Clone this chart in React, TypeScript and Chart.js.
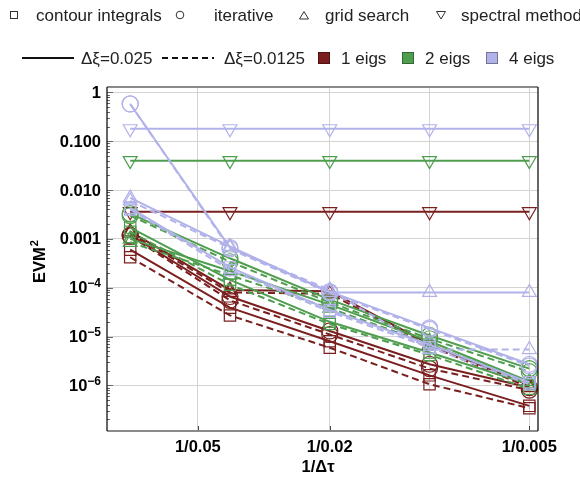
import React, { useEffect, useRef } from 'react';
import { Chart, registerables } from 'chart.js';

Chart.register(...registerables);

const FONT = '"Liberation Sans", Arial, Helvetica, sans-serif';

// x = 1/Δτ
const xValues = [12.5, 25, 50, 100, 200];
const xGridValues = [20, 50, 100, 200];
const xTickLabels = ['1/0.05', '1/0.02', '', '1/0.005'];
const yTickValues = [1e-6, 1e-5, 1e-4, 1e-3, 1e-2, 1e-1, 1];
const yTickBase = ['10', '10', '10', '0.001', '0.010', '0.100', '1'];
const yTickExp = ['−6', '−5', '−4', '', '', '', ''];

const methodLabels = ['contour integrals', 'iterative', 'grid search', 'spectral method'];
const stepLabels = ['Δξ=0.025', 'Δξ=0.0125'];
const eigLabels = ['1 eigs', '2 eigs', '4 eigs'];
const eigColors = ['#7a1e1e', '#4f9e4f', '#b2b2ea'];

// 1 eig
const contour1Solid = [6.0e-4, 3.9e-5, 8.0e-6, 1.6e-6, 3.8e-7];
const contour1Dashed = [4.2e-4, 2.7e-5, 5.9e-6, 1.05e-6, 3.4e-7];
const iter1Solid = [1.2e-3, 6.6e-5, 1.3e-5, 2.7e-6, 9.0e-7];
const iter1Dashed = [1.15e-3, 5.5e-5, 1.1e-5, 2.2e-6, 8.0e-7];
const grid1Solid = [1.4e-3, 9.0e-5, 8.5e-5, 7.0e-6, 1.0e-6];
const grid1Dashed = [1.3e-3, 8.0e-5, 7.5e-5, 6.5e-6, 9.0e-7];
const spec1 = [0.0036, 0.0036, 0.0036, 0.0036, 0.0036];

// 2 eigs
const contour2Solid = [1.7e-3, 1.45e-4, 2.0e-5, 4.7e-6, 1.05e-6];
const contour2Dashed = [1.4e-3, 1.15e-4, 1.8e-5, 4.2e-6, 8.5e-7];
const iter2Solid = [3.3e-3, 4.0e-4, 5.7e-5, 1.05e-5, 2.2e-6];
const iter2Dashed = [3.0e-3, 3.4e-4, 5.0e-5, 9.0e-6, 1.9e-6];
const grid2Solid = [1.0e-3, 2.2e-4, 4.5e-5, 8.0e-6, 1.2e-6];
const grid2Dashed = [8.5e-4, 1.8e-4, 3.8e-5, 7.0e-6, 1.1e-6];
const spec2 = [0.04, 0.04, 0.04, 0.04, 0.04];

// 4 eigs
const contour4Solid = [4.3e-3, 2.6e-4, 3.5e-5, 6.8e-6, 1.15e-6];
const contour4Dashed = [4.0e-3, 2.3e-4, 3.2e-5, 6.0e-6, 1.05e-6];
const iter4Solid = [0.58, 6.6e-4, 8.3e-5, 1.5e-5, 2.7e-6];
const iter4Dashed = [0.58, 6.2e-4, 7.8e-5, 1.4e-5, 2.5e-6];
const grid4Solid = [6.9e-3, 7.0e-4, 8.0e-5, 8.0e-5, 8.0e-5];
const grid4Dashed = [6.0e-3, 6.5e-4, 9.0e-5, 5.4e-6, 5.4e-6];
const spec4 = [0.18, 0.18, 0.18, 0.18, 0.18];

type Shape = 'rect' | 'circle' | 'triangle' | 'down';
type Series = { data: number[]; eig: number; dashed: boolean; shape: Shape };

// lavender first so it is drawn on top
const seriesList: Series[] = [
  { data: spec4, eig: 2, dashed: false, shape: 'down' },
  { data: grid4Solid, eig: 2, dashed: false, shape: 'triangle' },
  { data: grid4Dashed, eig: 2, dashed: true, shape: 'triangle' },
  { data: iter4Solid, eig: 2, dashed: false, shape: 'circle' },
  { data: iter4Dashed, eig: 2, dashed: true, shape: 'circle' },
  { data: contour4Solid, eig: 2, dashed: false, shape: 'rect' },
  { data: contour4Dashed, eig: 2, dashed: true, shape: 'rect' },
  { data: spec2, eig: 1, dashed: false, shape: 'down' },
  { data: grid2Solid, eig: 1, dashed: false, shape: 'triangle' },
  { data: grid2Dashed, eig: 1, dashed: true, shape: 'triangle' },
  { data: iter2Solid, eig: 1, dashed: false, shape: 'circle' },
  { data: iter2Dashed, eig: 1, dashed: true, shape: 'circle' },
  { data: contour2Solid, eig: 1, dashed: false, shape: 'rect' },
  { data: contour2Dashed, eig: 1, dashed: true, shape: 'rect' },
  { data: spec1, eig: 0, dashed: false, shape: 'down' },
  { data: grid1Solid, eig: 0, dashed: false, shape: 'triangle' },
  { data: grid1Dashed, eig: 0, dashed: true, shape: 'triangle' },
  { data: iter1Solid, eig: 0, dashed: false, shape: 'circle' },
  { data: iter1Dashed, eig: 0, dashed: true, shape: 'circle' },
  { data: contour1Solid, eig: 0, dashed: false, shape: 'rect' },
  { data: contour1Dashed, eig: 0, dashed: true, shape: 'rect' },
];

const decorPlugin = {
  id: 'decor',
  afterDraw(chart: any) {
    const { ctx, chartArea: a, scales } = chart;
    const ys = scales.y;
    const xs = scales.x;
    ctx.save();

    // minor ticks on left axis (inside)
    ctx.strokeStyle = '#666';
    ctx.lineWidth = 1;
    for (let e = -7; e <= 0; e++) {
      for (let m = 1; m <= 9; m++) {
        const v = m * Math.pow(10, e);
        if (v < ys.min || v > ys.max) continue;
        const y = Math.round(ys.getPixelForValue(v)) + 0.5;
        const len = m === 1 ? 6 : 3;
        ctx.beginPath();
        ctx.moveTo(a.left, y);
        ctx.lineTo(a.left + len, y);
        ctx.stroke();
      }
    }
    // x ticks (inside, bottom)
    ctx.strokeStyle = '#444';
    xGridValues.forEach((v, i) => {
      if (!xTickLabels[i]) return;
      const x = Math.round(xs.getPixelForValue(v)) + 0.5;
      ctx.beginPath();
      ctx.moveTo(x, a.bottom);
      ctx.lineTo(x, a.bottom - 5);
      ctx.stroke();
    });

    // frame
    ctx.strokeStyle = '#8a8a8a';
    ctx.lineWidth = 2;
    ctx.beginPath();
    ctx.moveTo(a.left, a.top);
    ctx.lineTo(a.right, a.top);
    ctx.moveTo(a.left, a.bottom);
    ctx.lineTo(a.right, a.bottom);
    ctx.stroke();
    ctx.strokeStyle = '#000';
    ctx.lineWidth = 1.2;
    ctx.beginPath();
    ctx.moveTo(a.left, a.top);
    ctx.lineTo(a.left, a.bottom);
    ctx.moveTo(a.right, a.top);
    ctx.lineTo(a.right, a.bottom);
    ctx.stroke();

    // y tick labels
    ctx.fillStyle = '#000';
    const right = a.left - 6;
    yTickValues.forEach((v, i) => {
      const y = ys.getPixelForValue(v);
      const base = yTickBase[i];
      const exp = yTickExp[i];
      ctx.font = `bold 16.5px ${FONT}`;
      const bw = ctx.measureText(base).width;
      let ew = 0;
      if (exp) {
        ctx.font = `bold 12px ${FONT}`;
        ew = ctx.measureText(exp).width;
      }
      const x0 = right - bw - ew;
      ctx.font = `bold 16.5px ${FONT}`;
      ctx.textAlign = 'left';
      ctx.textBaseline = 'middle';
      ctx.fillText(base, x0, y + 1);
      if (exp) {
        ctx.font = `bold 12px ${FONT}`;
        ctx.textBaseline = 'alphabetic';
        ctx.fillText(exp, x0 + bw, y - 0.5);
      }
    });

    // axis titles
    ctx.font = `bold 16.5px ${FONT}`;
    ctx.textAlign = 'center';
    ctx.textBaseline = 'middle';
    ctx.fillText('1/Δτ', 318, 467);

    ctx.save();
    ctx.translate(45, 283);
    ctx.rotate(-Math.PI / 2);
    ctx.textAlign = 'left';
    ctx.textBaseline = 'alphabetic';
    ctx.font = `bold 16.5px ${FONT}`;
    ctx.fillText('EVM', 0, 0);
    const ew2 = ctx.measureText('EVM').width;
    ctx.font = `bold 11px ${FONT}`;
    ctx.fillText('2', ew2 + 1, -7);
    ctx.restore();

    // legend row 1
    const r1 = 15;
    ctx.strokeStyle = '#333';
    ctx.lineWidth = 1;
    ctx.strokeRect(10.5, r1 - 3.5, 7, 7);
    ctx.beginPath();
    ctx.arc(180, r1, 3.8, 0, Math.PI * 2);
    ctx.stroke();
    ctx.beginPath();
    ctx.moveTo(304, r1 - 3.5);
    ctx.lineTo(308.5, r1 + 4);
    ctx.lineTo(299.5, r1 + 4);
    ctx.closePath();
    ctx.stroke();
    ctx.beginPath();
    ctx.moveTo(441, r1 + 4);
    ctx.lineTo(445.5, r1 - 3.5);
    ctx.lineTo(436.5, r1 - 3.5);
    ctx.closePath();
    ctx.stroke();
    ctx.fillStyle = '#222';
    ctx.font = `17px ${FONT}`;
    ctx.textAlign = 'left';
    ctx.textBaseline = 'middle';
    const r1x = [36, 214, 325, 461];
    methodLabels.forEach((t, i) => ctx.fillText(t, r1x[i], r1 + 1));

    // legend row 2
    const r2 = 58;
    ctx.strokeStyle = '#111';
    ctx.lineWidth = 2;
    ctx.beginPath();
    ctx.moveTo(22, r2);
    ctx.lineTo(74, r2);
    ctx.stroke();
    ctx.setLineDash([6, 4]);
    ctx.beginPath();
    ctx.moveTo(162, r2);
    ctx.lineTo(214, r2);
    ctx.stroke();
    ctx.setLineDash([]);
    ctx.fillStyle = '#222';
    ctx.fillText(stepLabels[0], 81, r2 + 1);
    ctx.fillText(stepLabels[1], 224, r2 + 1);
    const sqx = [324, 408, 492];
    eigLabels.forEach((t, i) => {
      ctx.fillStyle = eigColors[i];
      ctx.fillRect(sqx[i] - 6, r2 - 6, 12, 12);
      ctx.strokeStyle = 'rgba(0,0,0,0.35)';
      ctx.lineWidth = 1;
      ctx.strokeRect(sqx[i] - 6 + 0.5, r2 - 6 + 0.5, 11, 11);
      ctx.fillStyle = '#222';
      ctx.fillText(t, sqx[i] + 17, r2 + 1);
    });

    ctx.restore();
  },
};

export default function App() {
  const ref = useRef<HTMLCanvasElement | null>(null);

  useEffect(() => {
    document.body.style.margin = '0';
    const canvas = ref.current;
    if (!canvas) return;
    const datasets = seriesList.map((s) => {
      const color = eigColors[s.eig];
      return {
        data: xValues.map((x, i) => ({ x, y: s.data[i] })),
        borderColor: color,
        backgroundColor: 'transparent',
        borderWidth: 2,
        borderDash: s.dashed ? [7, 4] : [],
        pointStyle: s.shape === 'down' ? 'triangle' : s.shape,
        rotation: s.shape === 'down' ? 180 : 0,
        pointRadius: 8,
        pointBorderWidth: 1.2,
        pointBorderColor: color,
        pointBackgroundColor: 'transparent',
        fill: false,
        tension: 0,
      };
    });

    const chart = new Chart(canvas, {
      type: 'line',
      data: { datasets: datasets as any },
      options: {
        responsive: false,
        animation: false,
        devicePixelRatio: 1,
        layout: { padding: { top: 87, right: 42, left: 0, bottom: 0 } },
        plugins: { legend: { display: false }, tooltip: { enabled: false } },
        scales: {
          x: {
            type: 'logarithmic',
            min: 10.64,
            max: 212.4,
            afterBuildTicks: (s: any) => {
              s.ticks = xGridValues.map((v) => ({ value: v }));
            },
            afterFit: (s: any) => {
              s.height = 54;
            },
            grid: { color: '#d3d3d3', lineWidth: 1, drawTicks: false },
            border: { display: false },
            ticks: {
              autoSkip: false,
              maxRotation: 0,
              padding: 7,
              color: '#000',
              font: { family: FONT, size: 16.5, weight: 'bold' },
              callback: (v: any) => {
                const i = xGridValues.indexOf(Number(v));
                return i >= 0 ? xTickLabels[i] : '';
              },
            },
          },
          y: {
            type: 'logarithmic',
            min: 1.16e-7,
            max: 1.29,
            afterBuildTicks: (s: any) => {
              s.ticks = yTickValues.map((v) => ({ value: v }));
            },
            afterFit: (s: any) => {
              s.width = 107;
            },
            grid: { color: '#d3d3d3', lineWidth: 1, drawTicks: false },
            border: { display: false },
            ticks: { display: false },
          },
        },
      },
      plugins: [decorPlugin],
    });
    return () => chart.destroy();
  }, []);

  return (
    <div style={{ position: 'absolute', left: 0, top: 0, width: 580, height: 485, background: '#fff' }}>
      <canvas ref={ref} width={580} height={485} style={{ width: 580, height: 485 }} />
    </div>
  );
}
